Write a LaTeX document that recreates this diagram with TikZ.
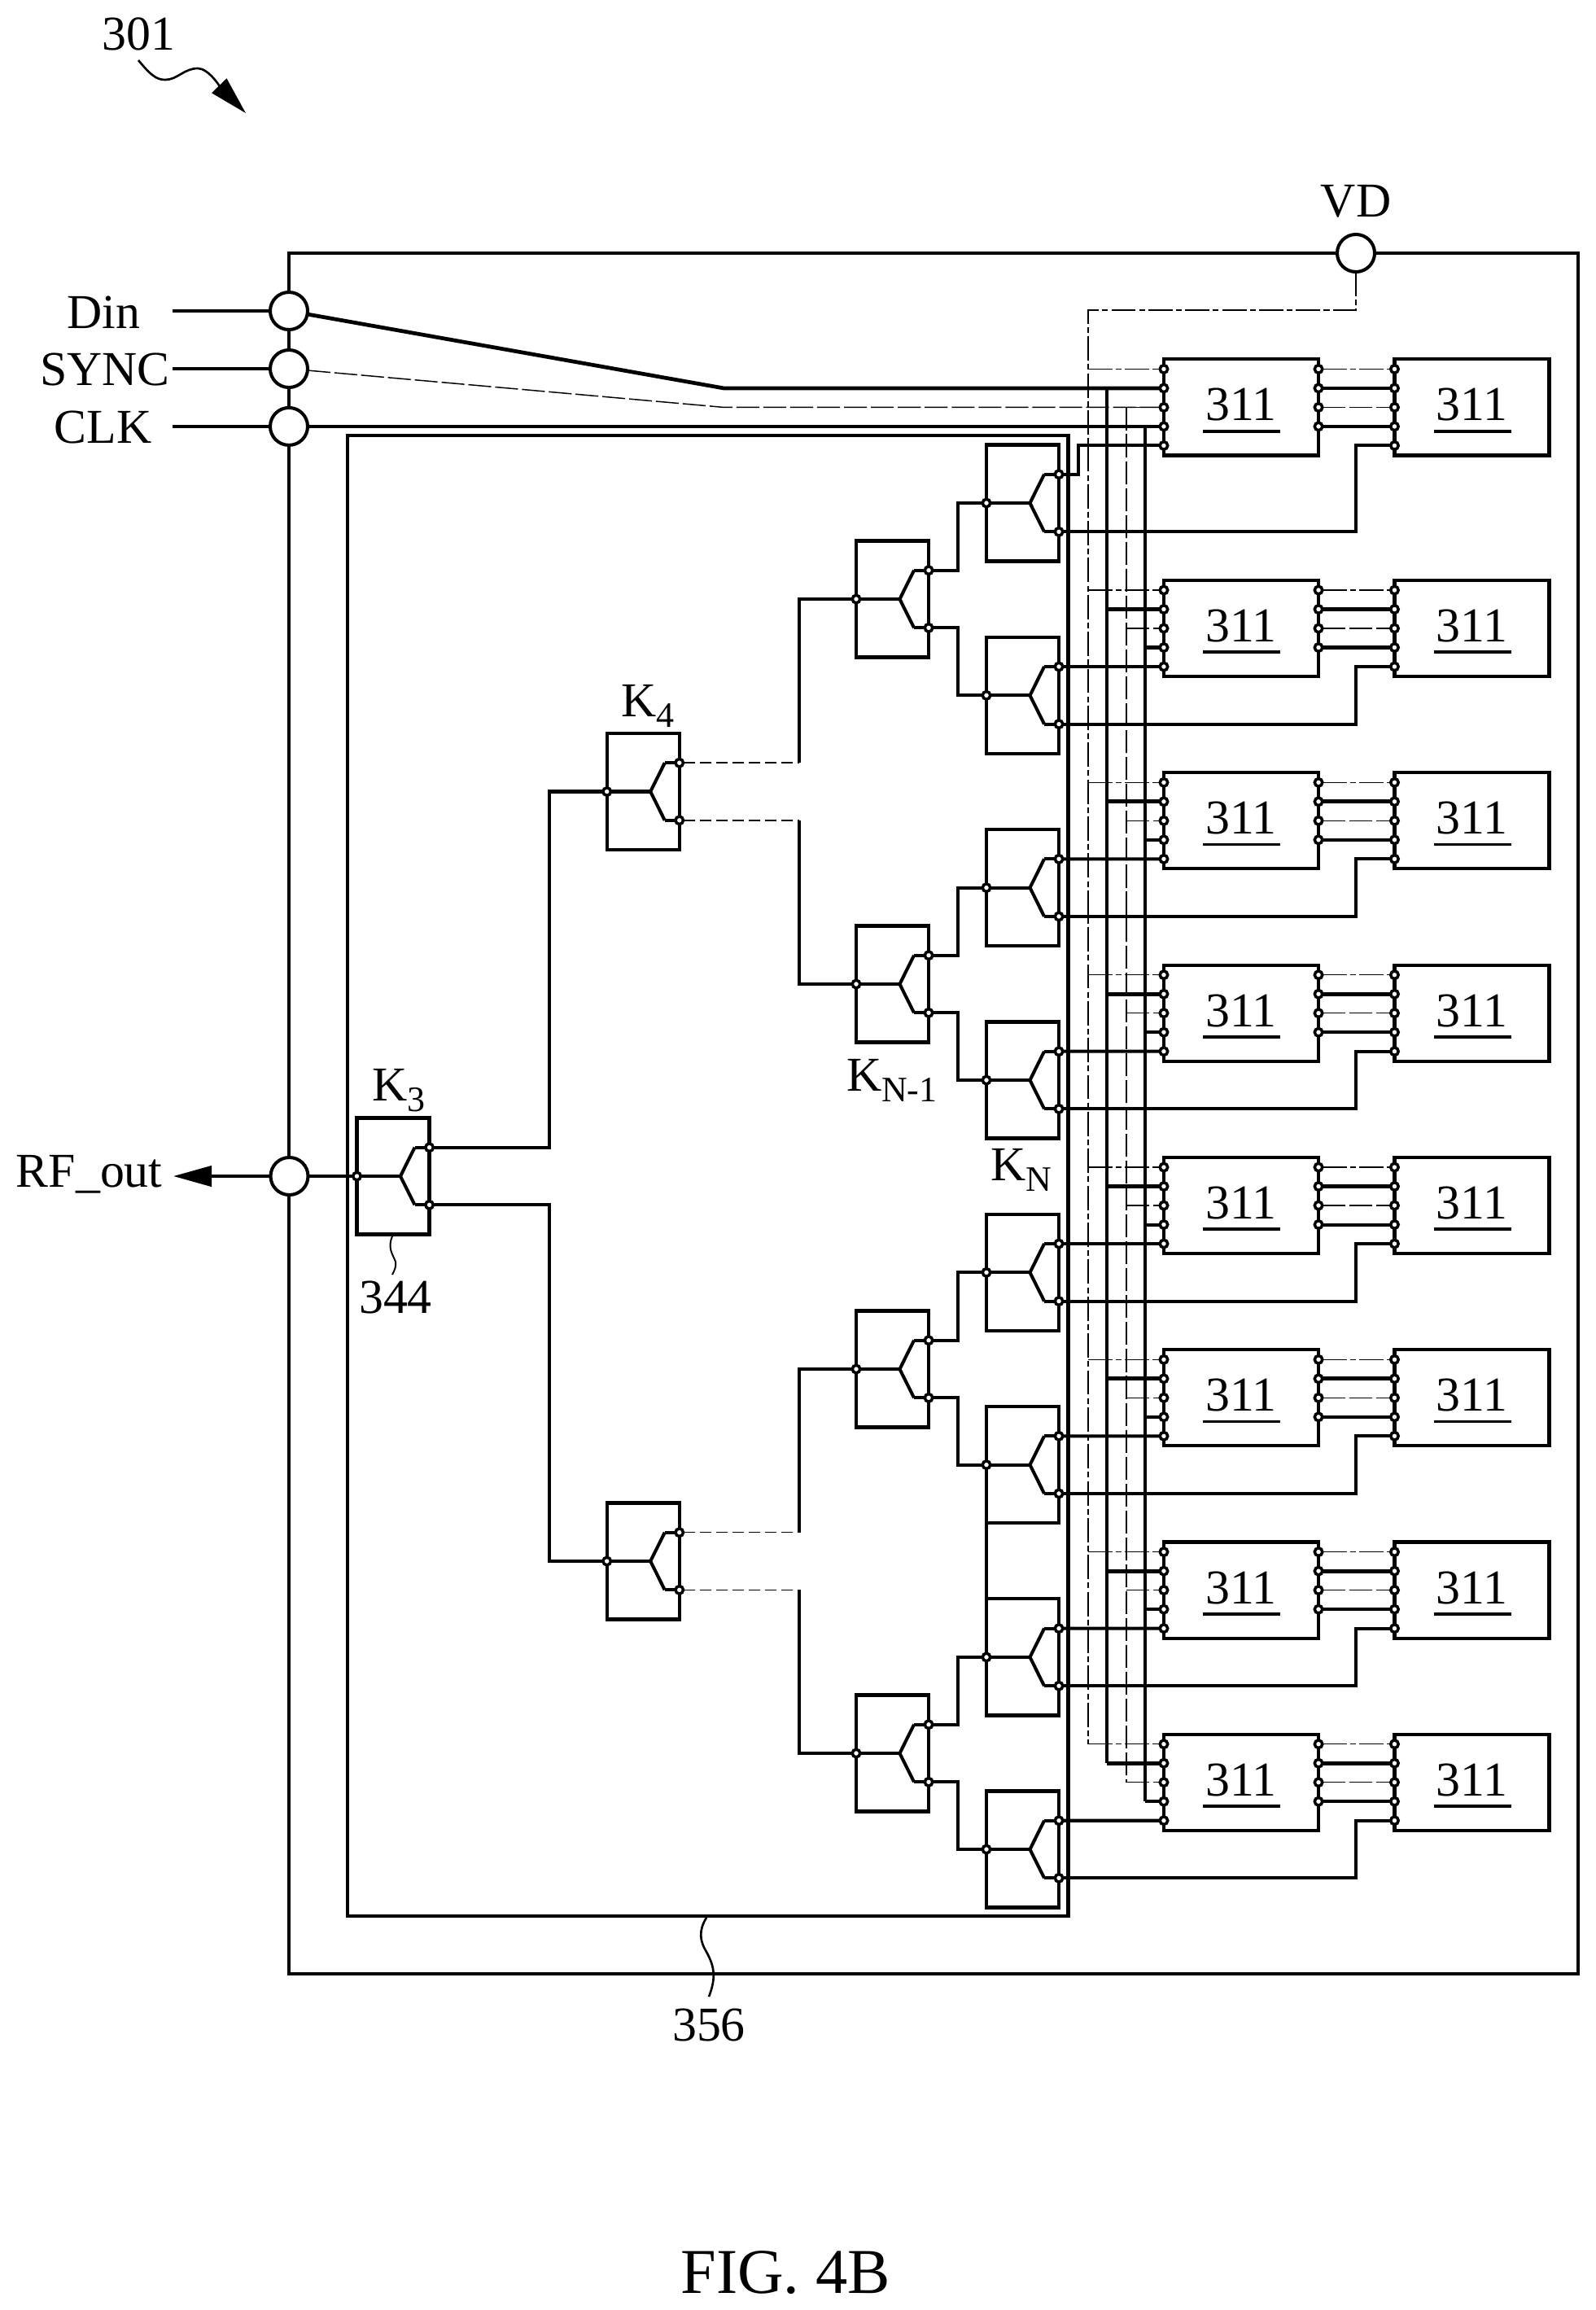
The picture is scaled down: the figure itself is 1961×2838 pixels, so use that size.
\documentclass[tikz,border=0pt]{standalone}
\usepackage{fontspec}
\setmainfont{Liberation Serif}
\usetikzlibrary{arrows.meta,calc}

\newcommand{\ksub}[1]{K{\fontsize{12.5}{14}\selectfont\raisebox{-3.7pt}{#1}}}
\newcommand{\unitnum}{\rlap{\kern-.85pt\rule[-4.2pt]{27pt}{1.1pt}}311}

\tikzset{
  boxline/.style={line width=1.2pt},
  wire/.style={line width=1.15pt},
  heavy/.style={line width=1.35pt},
  hairdot/.style={line width=.42pt,dash pattern=on 8.5pt off 1.2pt on 2pt off 1.2pt},
  hairdash/.style={line width=.42pt,dash pattern=on 8pt off 1.4pt},
  kdash/.style={line width=.42pt,dash pattern=on 4pt off 1.7pt},
  txt/.style={inner sep=0pt,outer sep=0pt,anchor=base west,font=\fontsize{17}{20}\selectfont},
  pad/.style={circle,draw,fill=white,line width=1.15pt,minimum size=.46cm,inner sep=0pt,outer sep=0pt},
  pin/.style={circle,draw,fill=white,line width=1pt,minimum size=.095cm,inner sep=0pt,outer sep=0pt},
  unit/.style={rectangle,draw,boxline,minimum width=1.9cm,minimum height=1.18cm,inner sep=0pt,outer sep=0pt},
  switchbox/.style={rectangle,draw,boxline,minimum width=.89cm,minimum height=1.43cm,inner sep=0pt,outer sep=0pt},
}

% one switch: name, left edge, centre height
\newcommand{\kswitch}[3]{
  \node[switchbox,anchor=west] (#1) at (#2,#3) {};
  \draw[wire] ($(#1.east)+(-18,-35.3)$) -- ($(#1.west)+(53.5,0)$) -- ($(#1.east)+(-18,35.3)$);
  \node[pin] (#1-i) at (#1.west) {};
  \node[pin] (#1-a) at ($(#1.east)+(0,-35.3)$) {};
  \node[pin] (#1-b) at ($(#1.east)+(0,35.3)$) {};
  \draw[wire] (#1-i) -- ($(#1.west)+(53.5,0)$);
  \draw[wire] ($(#1.east)+(-18,-35.3)$) -- (#1-a);
  \draw[wire] ($(#1.east)+(-18,35.3)$) -- (#1-b);
}

\begin{document}
\begin{tikzpicture}[x=.01cm,y=-.01cm]
  \useasboundingbox (0,0) rectangle (1961,2838);

  % --- outer frame and inner block
  \draw[boxline] (355,311) rectangle (1939,2425);
  \draw[boxline] (427,535) rectangle (1312.5,2354);

  % --- pads
  \node[pad] (din) at (355,382) {};
  \node[pad] (sync) at (355,453) {};
  \node[pad] (clk) at (355,523.9) {};
  \node[pad] (rfpad) at (355.5,1445) {};
  \node[pad] (vd) at (1666,311) {};

  \coordinate (din-l) at (212,382);
  \coordinate (sync-l) at (212,453);
  \coordinate (clk-l) at (212,523.9);
  \coordinate (rf-l) at (213,1445);

  \node[txt] (din-t) at (82.7,403) {Din};
  \node[txt] (sync-t) at (49,473) {SYNC};
  \node[txt] (clk-t) at (67,544) {CLK};
  \node[txt] (rf-t) at (20,1458) {RF\_out};
  \node[txt,anchor=base] (vd-t) at (1666,266) {VD};
  \node[txt] (ref-t) at (126,61.7) {301};
  \node[txt,anchor=base] (blk-t) at (871,2507) {356};
  \node[txt,anchor=base] (sw-t) at (486,1613) {344};
  \node[txt,font=\fontsize{22.3}{26}\selectfont,anchor=base] (fig-t) at (965,2817) {FIG. 4B};

  \draw[wire] (din-l) -- (din);
  \draw[wire] (sync-l) -- (sync);
  \draw[heavy] (clk-l) -- (clk);
  \draw[wire,-{Triangle[length=.47cm,width=.25cm]}] (rfpad) -- (rf-l);

  % --- switches of the last level and the units
  \foreach \r/\sy/\uy in {1/618/500.4,2/854.3/772,3/1090.6/1008.3,4/1327/1244.7,5/1563.3/1481,6/1799.6/1717.3,7/2035.9/1953.6,8/2272/2189.7}{
    \kswitch{sw\r}{1212}{\sy}
    \node[unit] (a\r) at (1525,\uy) {};
    \node[unit] (c\r) at (1808.5,\uy) {};
    \node[txt,anchor=base] (a\r-t) at ($(a\r.center)+(0,16.4)$) {\unitnum};
    \node[txt,anchor=base] (c\r-t) at ($(c\r.center)+(0,16.4)$) {\unitnum};
    \foreach \p/\dy in {1/-47,2/-23.5,3/0,4/23.5,5/47}{
      \node[pin] (a\r-\p) at ($(a\r.west)+(0,\dy)$) {};
      \node[pin] (c\r-\p) at ($(c\r.west)+(0,\dy)$) {};
    }
    \foreach \p/\dy in {1/-47,2/-23.5,3/0,4/23.5}{
      \node[pin] (b\r-\p) at ($(a\r.east)+(0,\dy)$) {};
    }
  }

  % --- the other levels
  \kswitch{m1}{1052}{736}
  \kswitch{m2}{1052}{1209}
  \kswitch{m3}{1052}{1682}
  \kswitch{m4}{1052}{2154}
  \kswitch{ku}{745.7}{972.5}
  \kswitch{kd}{745.7}{1918}
  \kswitch{k3}{438.5}{1445}

  \coordinate (mx) at (1177,0);
  \coordinate (kx) at (982,0);
  \coordinate (tx) at (675,0);

  \foreach \m/\u/\v in {m1/1/2,m2/3/4,m3/5/6,m4/7/8}{
    \draw[wire] (\m-a) -| (mx |- sw\u-i) -- (sw\u-i);
    \draw[wire] (\m-b) -| (mx |- sw\v-i) -- (sw\v-i);
  }
  \foreach \k/\p/\q in {ku/m1/m2,kd/m3/m4}{
    \draw[kdash] (\k-a) -- (kx |- \k-a);
    \draw[kdash] (\k-b) -- (kx |- \k-b);
    \draw[wire] (kx |- \k-a) |- (\p-i);
    \draw[wire] (kx |- \k-b) |- (\q-i);
  }
  \draw[wire] (k3-a) -| (tx |- ku-i) -- (ku-i);
  \draw[wire] (k3-b) -| (tx |- kd-i) -- (kd-i);
  \draw[wire] (rfpad) -- (k3-i);
  \draw[wire] (sw6.south west) -- (sw7.north west);

  \node[txt] (k3-t) at (457,1352) {\ksub{3}};
  \node[txt] (ku-t) at (763,880) {\ksub{4}};
  \node[txt] (m2-t) at (1040,1340) {\ksub{N-1}};
  \node[txt] (sw4-t) at (1217,1450) {\ksub{N}};

  % --- buses
  \coordinate (vdbus) at (1337,381);
  \coordinate (dinbus) at (1360,476.9);
  \coordinate (syncbus) at (1384,500.4);
  \coordinate (clkbus) at (1407,523.9);
  \coordinate (dinbend) at (889,476.9);
  \coordinate (syncbend) at (889,500.4);

  \draw[heavy] (din) -- (dinbend) -- (a1-2);
  \draw[hairdash] (sync) -- (syncbend) -- (a1-3);
  \draw[heavy] (clk) -- (a1-4);
  \draw[hairdot] (vd) |- (vdbus) -- (vdbus |- a8-1);
  \draw[heavy] (dinbus) -- (dinbus |- a8-2);
  \draw[hairdash] (syncbus) -- (syncbus |- a8-3);
  \draw[wire] (clkbus) -- (clkbus |- a8-4);

  \foreach \r in {1,...,8}{
    \draw[hairdot] (vdbus |- a\r-1) -- (a\r-1);
    \draw[heavy] (dinbus |- a\r-2) -- (a\r-2);
    \draw[hairdash] (syncbus |- a\r-3) -- (a\r-3);
    \draw[wire] (clkbus |- a\r-4) -- (a\r-4);
    % --- first unit to second unit
    \draw[hairdot] (b\r-1) -- (c\r-1);
    \draw[heavy] (b\r-2) -- (c\r-2);
    \draw[hairdash] (b\r-3) -- (c\r-3);
    \draw[wire] (b\r-4) -- (c\r-4);
    % --- lower output to the second unit
    \coordinate (cj\r) at ($(c\r-5)+(-47,0)$);
    \draw[wire] (sw\r-b) -| (cj\r) -- (c\r-5);
  }

  % --- upper outputs to the first unit
  \coordinate (jog) at (1324.6,547.4);
  \draw[wire] (sw1-a) -| (jog) -- (a1-5);
  \foreach \r in {2,...,8}{
    \draw[wire] (sw\r-a) -- (a\r-5);
  }

  % --- reference leaders
  \draw[line width=.75pt,-{Triangle[length=.47cm,width=.25cm]}] (170,74) .. controls (185,92) and (192,98) .. (203,98) .. controls (218,98) and (226,84) .. (243,84) .. controls (256,84) and (270,106) .. (302,139);
  \draw[line width=.75pt] (868,2356) .. controls (858,2372) and (860,2385) .. (868,2398) .. controls (878,2416) and (880,2430) .. (871,2453);
  \draw[line width=.55pt] (482,1519) .. controls (476,1533) and (482,1540) .. (486,1550) .. controls (487,1556) and (485,1560) .. (482,1566);
\end{tikzpicture}
\end{document}
